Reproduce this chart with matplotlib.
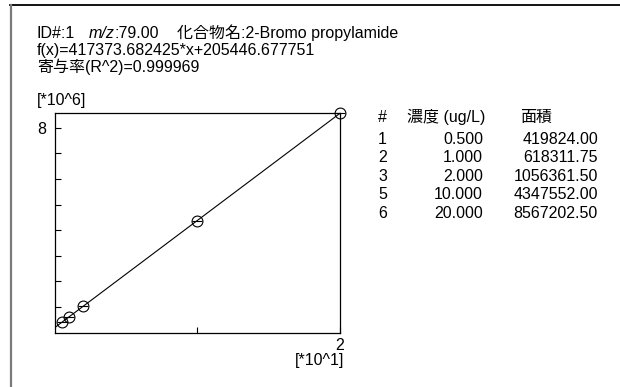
import matplotlib
matplotlib.use("Agg")
import matplotlib.pyplot as plt
from matplotlib.lines import Line2D

plt.rcParams['font.family'] = ['Liberation Sans', 'Noto Sans CJK JP']

# calibration data
row_ids = [1, 2, 3, 5, 6]
conc = [0.500, 1.000, 2.000, 10.000, 20.000]
area = [419824.00, 618311.75, 1056361.50, 4347552.00, 8567202.50]

slope = 417373.682425
intercept = 205446.677751
r2 = 0.999969

W, H = 620, 387
fig = plt.figure(figsize=(W / 100, H / 100), dpi=100)

def px(x, y):
    return x / W, 1 - y / H

# outer frame (top and left edges)
fig.add_artist(Line2D([10 / W, 1], [1 - 5 / H] * 2, color='black', lw=1.3))
fig.add_artist(Line2D([10.5 / W] * 2, [0, 1 - 5 / H], color='#7a7a7a', lw=1.6))

# header lines
fs = 11.5
fig.text(*px(37, 33), 'ID#:1', fontsize=fs, va='center')
fig.text(*px(89, 33), 'm/z', fontsize=fs, va='center', style='italic')
fig.text(*px(114, 33), ':79.00', fontsize=fs, va='center')
fig.text(*px(177, 33), '化合物名:2-Bromo propylamide', fontsize=fs, va='center')
fig.text(*px(37, 50), f'f(x)={slope:.6f}*x+{intercept:.6f}', fontsize=fs, va='center')
fig.text(*px(37, 67), f'寄与率(R^2)={r2:.6f}', fontsize=fs, va='center')

# calibration plot
ax = fig.add_axes([55 / W, 1 - 332.7 / H, (339.5 - 55) / W, (332.7 - 113.3) / H])
ax.set_xlim(0, 20)
ax.set_ylim(0, max(area))

fx = [0, 20]
ax.plot(fx, [slope * x + intercept for x in fx], color='black', lw=0.8, zorder=2)
ax.plot(conc, area, linestyle='none', marker='o', markersize=7.8,
        markerfacecolor='none', markeredgecolor='black', markeredgewidth=0.8,
        clip_on=False, zorder=3)
ax.plot(conc, area, linestyle='none', marker='_', markersize=7.8,
        markeredgecolor='black', markeredgewidth=0.8, clip_on=False, zorder=3)

ax.set_yticks([i * 1e6 for i in range(1, 9)])
ax.set_yticklabels([''] * 7 + ['8'], fontsize=fs)
ax.set_xticks([10, 20])
ax.set_xticklabels(['', ''])
ax.tick_params(direction='in', length=4, width=0.8, pad=6)
for s in ax.spines.values():
    s.set_linewidth(0.9)

fig.text(*px(37, 101), '[*10^6]', fontsize=fs, va='center')
fig.text(*px(340, 345), '2', fontsize=fs, va='center', ha='center')
fig.text(*px(344, 360), '[*10^1]', fontsize=fs, va='center', ha='right')

# data table
fig.text(*px(378, 117), '#', fontsize=fs, va='center')
fig.text(*px(407, 117), '濃度 (ug/L)', fontsize=fs, va='center')
fig.text(*px(520, 117), '面積', fontsize=fs, va='center')
row_y0, row_dy = 139, 18.5
for i, (rid, c, a) in enumerate(zip(row_ids, conc, area)):
    y = row_y0 + i * row_dy
    fig.text(*px(378, y), str(rid), fontsize=fs, va='center')
    fig.text(*px(483, y), f'{c:.3f}', fontsize=fs, va='center', ha='right')
    fig.text(*px(598, y), f'{a:.2f}', fontsize=fs, va='center', ha='right')

fig.savefig('out.png', dpi=100)
